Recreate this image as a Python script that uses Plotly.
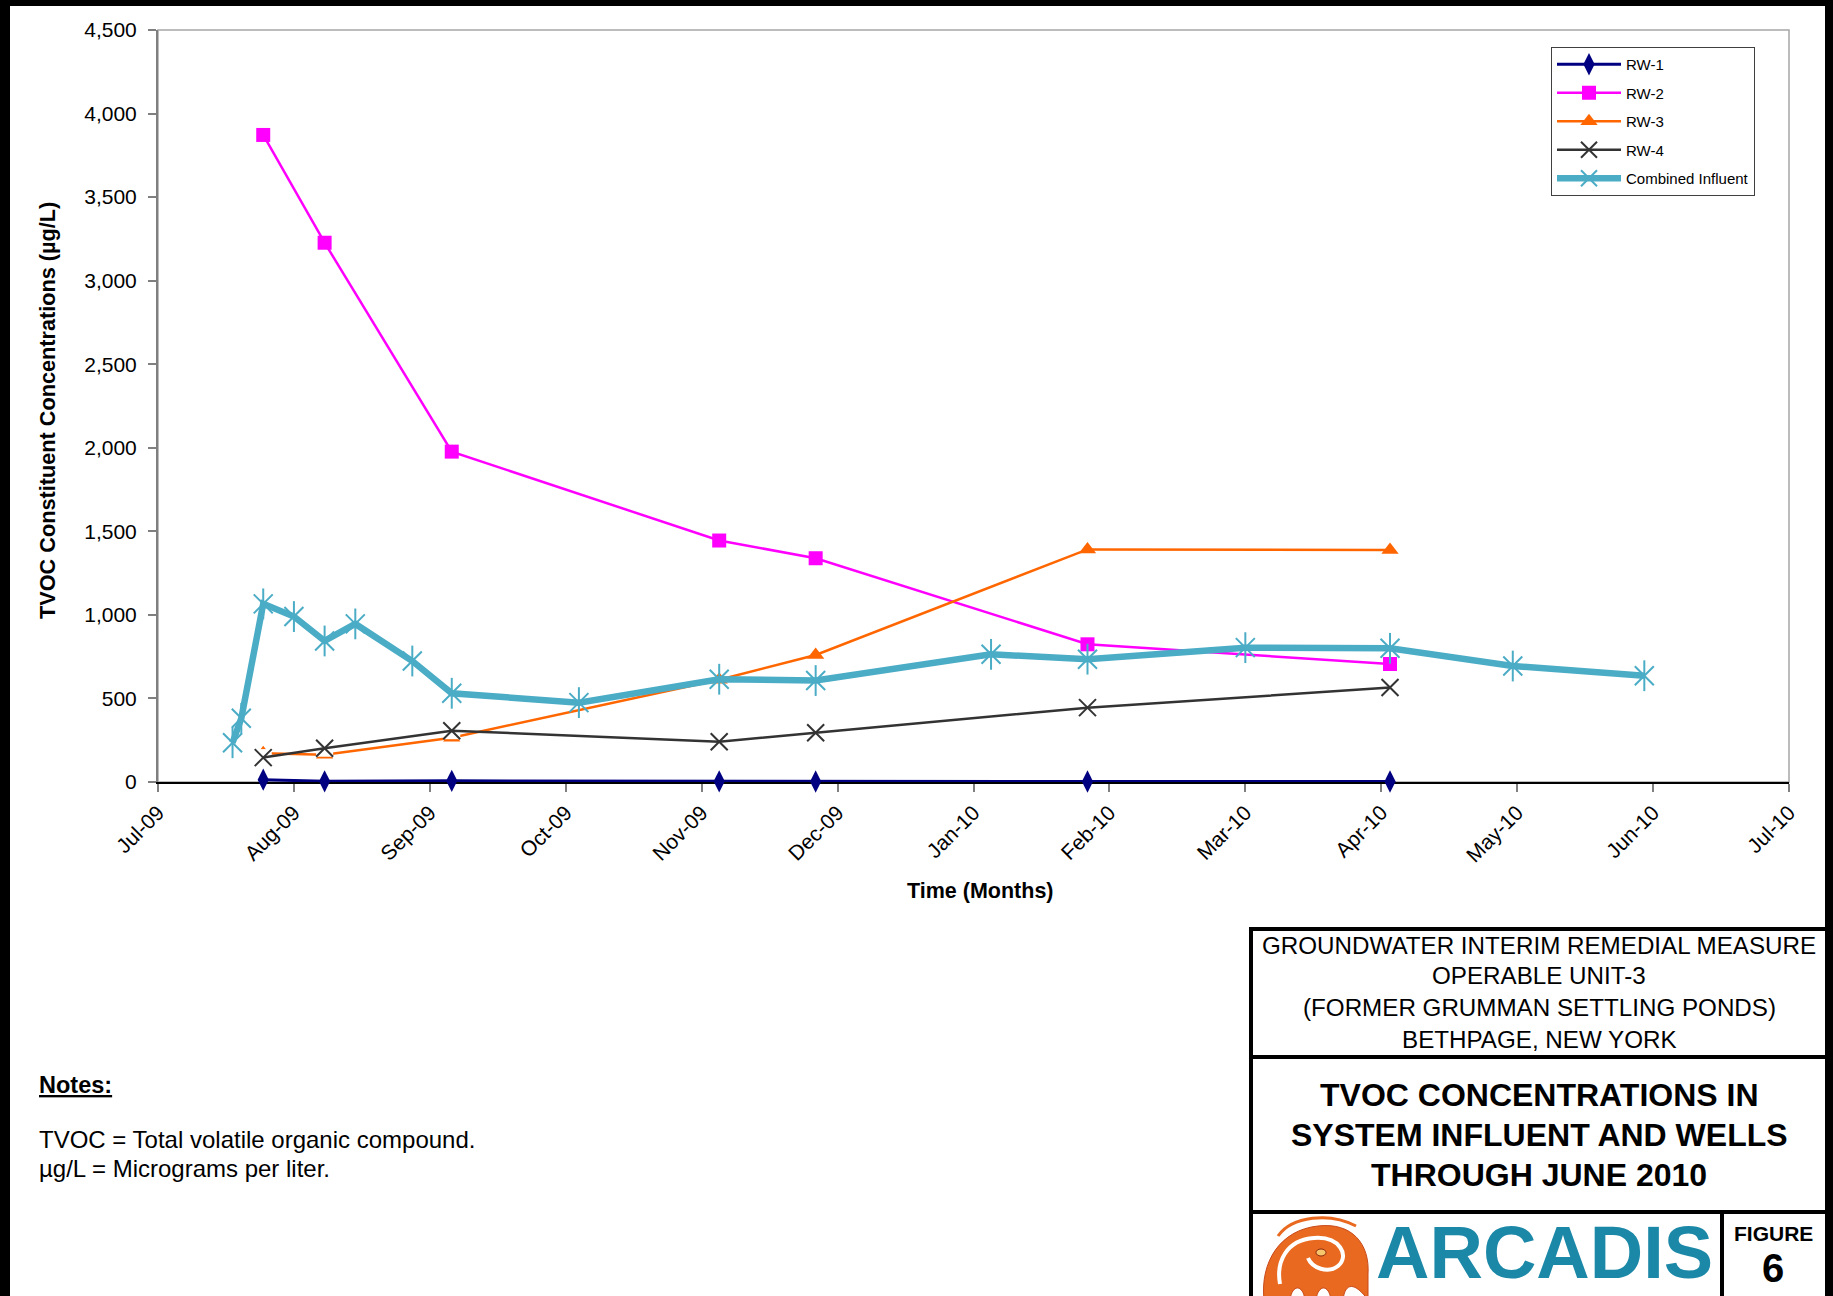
import pandas as pd
import plotly.graph_objects as go

# ---------------- data ----------------
well_dates = ["2009-07-25", "2009-08-08", "2009-09-06", "2009-11-06",
              "2009-11-28", "2010-01-29", "2010-04-08"]
rw1 = [14, 4, 7, 4, 3, 3, 3]
rw2 = [3872, 3227, 1977, 1445, 1339, 824, 706]
rw3 = [172, 163, 265, 612, 760, 1392, 1388]
rw4 = [146, 202, 307, 241, 295, 445, 565]

influent_dates = ["2009-07-18", "2009-07-20", "2009-07-25", "2009-08-01",
                  "2009-08-08", "2009-08-15", "2009-08-28", "2009-09-06",
                  "2009-10-05", "2009-11-06", "2009-11-28", "2010-01-07",
                  "2010-01-29", "2010-03-06", "2010-04-08", "2010-05-06",
                  "2010-06-05"]
influent = [235, 381, 1066, 990, 844, 946, 724, 531, 475, 615, 607, 764,
            735, 804, 800, 694, 636]

month_labels = ["Jul-09", "Aug-09", "Sep-09", "Oct-09", "Nov-09", "Dec-09",
                "Jan-10", "Feb-10", "Mar-10", "Apr-10", "May-10", "Jun-10",
                "Jul-10"]
y_ticks = [0, 500, 1000, 1500, 2000, 2500, 3000, 3500, 4000, 4500]

# ---------------- page geometry (pixels) ----------------
W, H = 1833, 1296
PL, PR, PT, PB = 158, 1789, 30, 782
FONT = "Liberation Sans, Arial, sans-serif"
TEAL = "#4BACC6"

def px(x):
    return (x - PL) / (PR - PL)

def py(y):
    return (PB - y) / (PB - PT)

# month ticks every 31 days from the axis origin
tick_pos = pd.date_range("2009-07-01", periods=len(month_labels), freq="31D")

fig = go.Figure()

fig.add_trace(go.Scatter(
    x=well_dates, y=rw1, name="RW-1", mode="lines+markers", legendgroup="a",
    line=dict(color="#000080", width=3),
    marker=dict(symbol="diamond-tall", size=16, color="#000080"),
    cliponaxis=False))
fig.add_trace(go.Scatter(
    x=well_dates, y=rw2, name="RW-2", mode="lines+markers", legendgroup="b",
    line=dict(color="#FF00FF", width=2.5),
    marker=dict(symbol="square", size=14, color="#FF00FF")))
fig.add_trace(go.Scatter(
    x=well_dates, y=rw3, name="RW-3", mode="lines+markers", legendgroup="c",
    line=dict(color="#FF6600", width=2.5),
    marker=dict(symbol="triangle-up", size=15, color="#FF6600")))
# white backing squares behind the RW-4 cross markers
fig.add_trace(go.Scatter(
    x=well_dates, y=rw4, mode="markers", showlegend=False, hoverinfo="skip",
    marker=dict(symbol="square", size=17, color="white", line=dict(width=0))))
fig.add_trace(go.Scatter(
    x=well_dates, y=rw4, name="RW-4", mode="lines+markers", legendgroup="d",
    line=dict(color="#333333", width=2.5),
    marker=dict(symbol="x-thin-open", size=17, color="#333333",
                line=dict(color="#333333", width=2))))
fig.add_trace(go.Scatter(
    x=influent_dates, y=influent, name="Combined Influent",
    mode="lines+markers", legendgroup="e",
    line=dict(color=TEAL, width=6.5),
    marker=dict(symbol="x-thin-open", size=19, color=TEAL,
                line=dict(color=TEAL, width=2))))
# vertical stroke completing the star marker
fig.add_trace(go.Scatter(
    x=influent_dates, y=influent, mode="markers", showlegend=False,
    hoverinfo="skip",
    marker=dict(symbol="line-ns-open", size=22, color=TEAL,
                line=dict(color=TEAL, width=2))))

fig.update_xaxes(
    type="date", range=[tick_pos[0], tick_pos[-1]],
    tickvals=tick_pos, ticktext=month_labels, tickangle=-45,
    tickfont=dict(family=FONT, size=21, color="black"),
    showgrid=False, zeroline=False,
    showline=True, linecolor="#000000", linewidth=2,
    ticks="outside", ticklen=8, tickcolor="#808080", tickwidth=1.5,
    layer="below traces")
fig.update_yaxes(
    range=[0, 4500], tickvals=y_ticks, tickformat=",d",
    tickfont=dict(family=FONT, size=21, color="black"),
    showgrid=False, zeroline=False,
    showline=True, linecolor="#7F7F7F", linewidth=2,
    ticks="outside", ticklen=8, tickcolor="#808080", tickwidth=1.5,
    ticklabelstandoff=7, layer="below traces")

shapes = []
# plot-area frame
shapes.append(dict(type="rect", xref="paper", yref="paper",
                   x0=0, x1=1, y0=0, y1=1,
                   line=dict(color="#A6A6A6", width=1.5), layer="below"))

def filled(x0, y0, x1, y1, color="black"):
    shapes.append(dict(type="rect", xref="paper", yref="paper",
                       x0=px(x0), x1=px(x1), y0=py(y1), y1=py(y0),
                       fillcolor=color, line=dict(width=0), layer="above"))

# page border
filled(0, 0, 10, H + 10)
filled(0, 0, W + 10, 6)
filled(1825, 0, W + 10, H + 10)
# title block
filled(1249, 927, 1829, 931)
filled(1249, 927, 1253, H + 10)
filled(1249, 1055, 1829, 1059)
filled(1249, 1210, 1829, 1214)
filled(1720, 1210, 1724, H + 10)

def path_from(points, close=True):
    s = ""
    for cmd, pts in points:
        s += cmd + " " + " ".join(f"{px(a):.5f},{py(b):.5f}" for a, b in pts) + " "
    return s + ("Z" if close else "")

# stylised logo mark: arched body with legs, curled head and eye
body = [("M", [(1264, 1300)]),
        ("C", [(1260, 1262), (1280, 1230), (1318, 1226)]),
        ("C", [(1352, 1222), (1370, 1244), (1368, 1274)]),
        ("L", [(1368, 1300), (1357, 1300)]),
        ("C", [(1355, 1282), (1345, 1282), (1343, 1300)]),
        ("L", [(1331, 1300)]),
        ("C", [(1329, 1284), (1318, 1284), (1316, 1300)]),
        ("L", [(1305, 1300)]),
        ("C", [(1303, 1284), (1292, 1284), (1290, 1300)]),
        ("L", [(1278, 1300)])]
shapes.append(dict(type="path", xref="paper", yref="paper", path=path_from(body),
                   fillcolor="#E8691F", line=dict(color="#C94A1A", width=1),
                   layer="above"))
curl = [("M", [(1280, 1284)]),
        ("C", [(1276, 1262), (1286, 1240), (1314, 1238)]),
        ("C", [(1340, 1236), (1350, 1256), (1338, 1266)]),
        ("C", [(1328, 1274), (1312, 1268), (1308, 1258)])]
shapes.append(dict(type="path", xref="paper", yref="paper",
                   path=path_from(curl, close=False),
                   line=dict(color="white", width=4), layer="above"))
top_curve = [("M", [(1278, 1236)]),
             ("C", [(1292, 1216), (1330, 1212), (1356, 1226)])]
shapes.append(dict(type="path", xref="paper", yref="paper",
                   path=path_from(top_curve, close=False),
                   line=dict(color="#E8691F", width=3), layer="above"))
shapes.append(dict(type="circle", xref="paper", yref="paper",
                   x0=px(1316), x1=px(1326), y0=py(1256), y1=py(1249),
                   fillcolor="#F6C46A", line=dict(color="#8A2A10", width=1),
                   layer="above"))

annotations = []

def text(x, y, s, size, bold=False, color="black", xanchor="center", angle=0):
    annotations.append(dict(
        xref="paper", yref="paper", x=px(x), y=py(y), text=s,
        showarrow=False, xanchor=xanchor, yanchor="middle", textangle=angle,
        font=dict(family=FONT, size=size, color=color,
                  weight="bold" if bold else "normal")))

text(980, 891, "Time (Months)", 21.5, bold=True)
text(47, 411, "TVOC Constituent Concentrations (µg/L)", 21.7, bold=True, angle=-90)

text(37, 1085, "<u>Notes:</u>", 23.5, bold=True, xanchor="left")
text(37, 1139, "TVOC = Total volatile organic compound.", 24, xanchor="left")
text(37, 1168, "µg/L = Micrograms per liter.", 24, xanchor="left")

cx = 1539
text(cx, 945, "GROUNDWATER INTERIM REMEDIAL MEASURE", 24.2)
text(cx, 976, "OPERABLE UNIT-3", 24.2)
text(cx, 1007, "(FORMER GRUMMAN SETTLING PONDS)", 24.2)
text(cx, 1039, "BETHPAGE, NEW YORK", 24.2)
text(cx, 1095, "TVOC CONCENTRATIONS IN", 32, bold=True)
text(cx, 1135, "SYSTEM INFLUENT AND WELLS", 32, bold=True)
text(cx, 1175, "THROUGH JUNE 2010", 32, bold=True)
text(1544, 1252, "ARCADIS", 74, bold=True, color="#1C88A8")
text(1773, 1233, "FIGURE", 21, bold=True)
text(1773, 1268, "6", 40, bold=True)

fig.update_layout(
    width=W, height=H, autosize=False,
    margin=dict(l=PL, r=W - PR, t=PT, b=H - PB),
    paper_bgcolor="white", plot_bgcolor="white",
    font=dict(family=FONT, color="black"),
    shapes=shapes, annotations=annotations,
    legend=dict(x=px(1551), y=py(47), xanchor="left", yanchor="top",
                bgcolor="white", bordercolor="#404040", borderwidth=1,
                font=dict(family=FONT, size=15, color="black"),
                itemwidth=64, tracegroupgap=6, traceorder="grouped"),
)

fig.write_html("out.html")
